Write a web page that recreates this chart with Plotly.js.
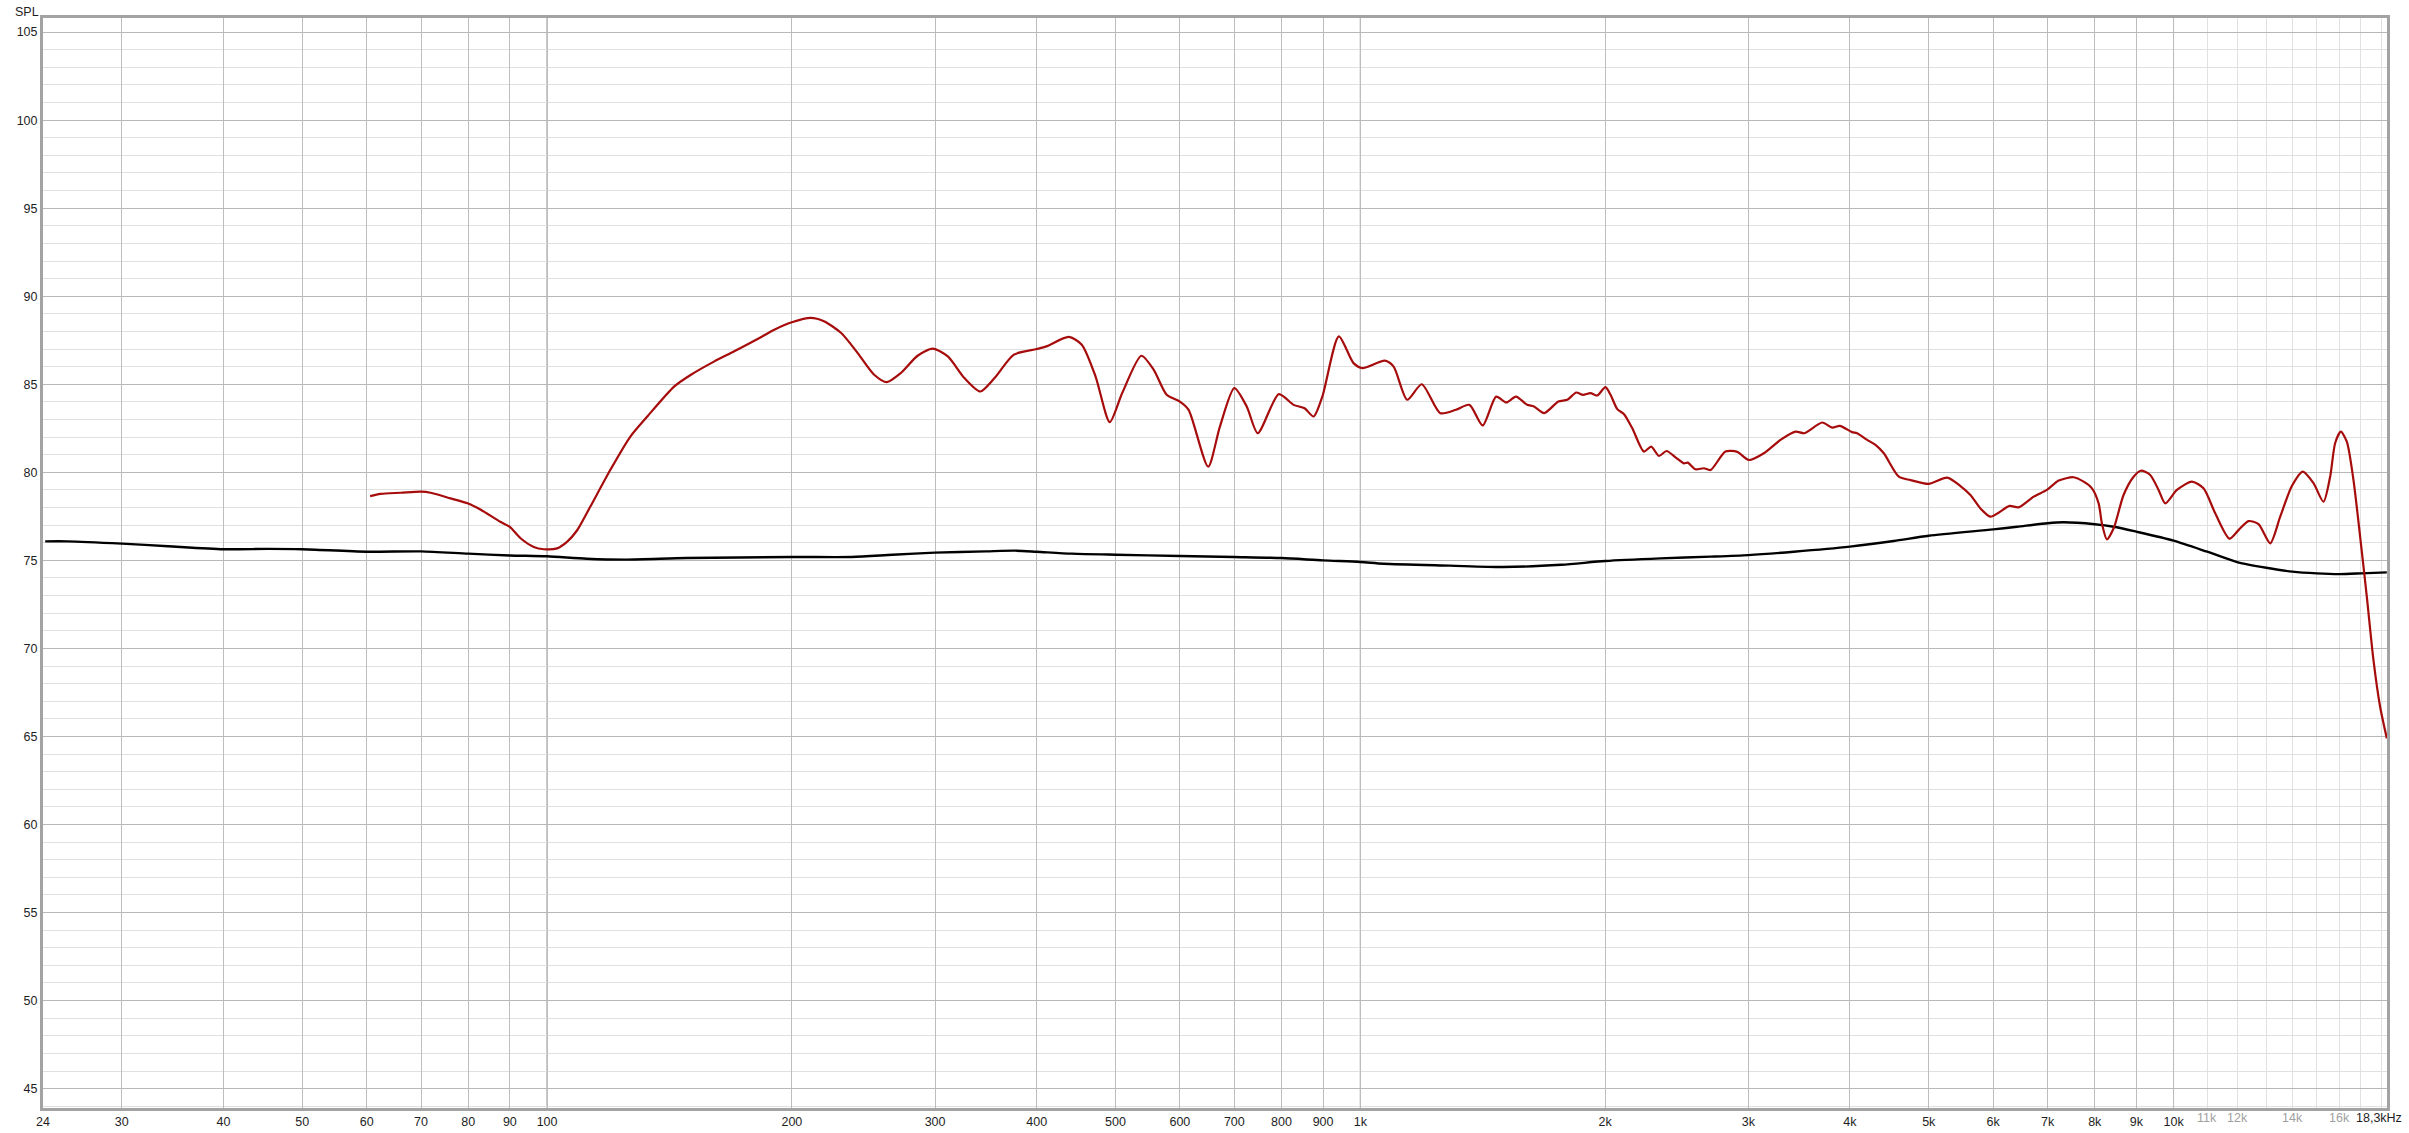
<!DOCTYPE html>
<html><head><meta charset="utf-8">
<script src="https://cdn.plot.ly/plotly-3.0.1.min.js"></script>
<style>html,body{margin:0;padding:0;background:#fff;}#chart{width:2409px;height:1133px;}</style>
</head><body><div id="chart"></div>
<script>
// Red measurement curve (Hz, dB SPL)
const redFreq = [60.6,62.4,66.1,70,71.9,76.1,80,82.8,87.6,90,92.7,96.3,99.1,102.9,105.8,108.9,113,119.6,126.6,133,143.4,150.3,160.6,169.9,181.5,190.3,200,211,219,230,241,252.5,261.7,272.3,285.5,298,311,326,341,355,375,400,411,438,454.5,472.5,492,509.6,538,557,578,600,615,650,672,700,725,748,794,828,854,876,898,941,981,1006,1072,1099,1142,1190,1254,1311,1362,1414,1469,1512,1554,1604,1635,1683,1752,1797,1843,1878,1919,1955,2002,2031,2070,2110,2160,2232,2279,2329,2380,2441,2499,2527,2583,2645,2696,2812,2907,3005,3135,3286,3429,3517,3698,3804,3887,4025,4082,4200,4300,4403,4594,4748,5000,5267,5470,5626,5788,5953,6100,6287,6450,6730,6987,7224,7537,7752,7937,8088,8164,8280,8440,8680,8930,9118,9360,9585,9768,10095,10532,10885,11252,11717,12021,12365,12720,13148,13525,13979,14421,14862,15288,15579,15800,16057,16332,16643,16960,17283,17612,17947,18292];
const redSpl = [78.65,78.78,78.84,78.9,78.84,78.52,78.23,77.89,77.19,76.9,76.27,75.76,75.63,75.68,76.05,76.71,78.04,80.13,82.03,83.2,84.88,85.54,86.3,86.87,87.57,88.1,88.52,88.77,88.58,87.91,86.77,85.54,85.12,85.64,86.62,87.02,86.58,85.35,84.59,85.35,86.68,87.0,87.15,87.69,87.25,85.45,82.85,84.5,86.62,85.83,84.4,84.02,83.55,80.32,82.6,84.78,83.74,82.22,84.44,83.83,83.64,83.17,84.3,87.72,86.2,85.92,86.34,86.0,84.12,85.0,83.36,83.55,83.83,82.66,84.3,83.97,84.3,83.83,83.74,83.36,84.02,84.12,84.53,84.4,84.5,84.36,84.84,84.4,83.59,83.3,82.5,81.18,81.46,80.93,81.21,80.85,80.51,80.55,80.17,80.23,80.13,81.18,81.16,80.7,81.08,81.84,82.31,82.22,82.83,82.54,82.64,82.28,82.22,81.84,81.56,81.08,79.75,79.56,79.34,79.7,79.22,78.71,77.95,77.48,77.72,78.09,78.01,78.62,79.0,79.53,79.72,79.47,79.09,78.24,77.1,76.19,76.82,78.71,79.75,80.09,79.85,79.0,78.24,79.0,79.47,79.09,77.67,76.23,76.72,77.23,77.06,75.97,77.48,79.22,80.04,79.38,78.33,79.75,81.65,82.31,81.74,79.56,76.34,72.94,69.34,66.69,64.89];
// Black reference curve (Hz, dB SPL)
const blackFreq = [24.15,25.7,30,34.2,40,45.4,50,60,70,80,90,100,111.9,125.3,148.4,200,237,266,300,346,376,400,442,500,600,700,800,900,1000,1068,1289,1498,1767,2000,2339,2696,3000,3412,4000,4529,5000,6000,6420,7000,7323,8000,8440,9000,10000,11000,12000,13000,14000,15000,16000,17000,18290];
const blackSpl = [76.08,76.08,75.95,75.8,75.63,75.65,75.63,75.49,75.51,75.38,75.28,75.23,75.09,75.04,75.13,75.19,75.19,75.32,75.44,75.51,75.55,75.49,75.38,75.32,75.25,75.19,75.13,75.0,74.91,74.81,74.7,74.62,74.75,74.96,75.11,75.21,75.3,75.49,75.78,76.1,76.4,76.76,76.91,77.11,77.16,77.05,76.91,76.63,76.12,75.49,74.89,74.58,74.36,74.26,74.22,74.26,74.32];

const xTickVals = [24,30,40,50,60,70,80,90,100,200,300,400,500,600,700,800,900,1000,2000,3000,4000,5000,6000,7000,8000,9000,10000];
const xTickText = ['24','30','40','50','60','70','80','90','100','200','300','400','500','600','700','800','900','1k','2k','3k','4k','5k','6k','7k','8k','9k','10k'];
const endTickVal = 18300;
const endTickText = '18,3kHz';
const lightTickVals = [11000,12000,14000,16000];
const lightTickText = ['11k','12k','14k','16k'];
const lightGridVals = [11000,12000,13000,14000,15000,16000,17000,18000];
const decadeVals = [100,1000,10000];
const yTickVals = [45,50,55,60,65,70,75,80,85,90,95,100,105];
const xMin = 24, xMax = 18300, yMin = 43.9, yMax = 105.8;

const xr = [Math.log10(xMin), Math.log10(xMax)];
const fam = '"Liberation Sans", Arial, sans-serif';
const font = {family: fam, size: 12.5, color: '#1e1e1e'};

const traces = [
  {x: blackFreq, y: blackSpl, type: 'scatter', mode: 'lines',
   line: {color: '#000000', width: 2.4, shape: 'spline', smoothing: 0.7}, hoverinfo: 'skip'},
  {x: redFreq, y: redSpl, type: 'scatter', mode: 'lines',
   line: {color: '#a60c0c', width: 2.2, shape: 'spline', smoothing: 0.7}, hoverinfo: 'skip'}
];

// darker decade grid lines (data positions through the x scale)
const shapes = decadeVals.map(v => ({
  type: 'line', layer: 'below', xref: 'x', yref: 'paper', x0: v, x1: v, y0: 0, y1: 1,
  line: {color: '#8a8a8a', width: 1}
}));

// light tick labels above 10k
const annotations = lightTickVals.map((v, i) => ({
  text: lightTickText[i], xref: 'x', yref: 'paper', x: Math.log10(v), y: 0,
  xanchor: 'center', yanchor: 'top', yshift: -1, showarrow: false,
  font: {family: fam, size: 12.5, color: '#a0a0a0'}
}));
annotations.push({text: endTickText, xref: 'x', yref: 'paper', x: Math.log10(endTickVal), y: 0,
  xanchor: 'right', yanchor: 'top', xshift: 17, yshift: -1, showarrow: false, font: font});
annotations.push({text: 'SPL', xref: 'paper', yref: 'paper', x: 0, y: 1, xanchor: 'center', yanchor: 'bottom',
  xshift: -16, yshift: -3, showarrow: false, font: font});

const layout = {
  width: 2409, height: 1133,
  margin: {l: 43, r: 22, t: 18, b: 25, pad: 0},
  paper_bgcolor: '#ffffff', plot_bgcolor: '#ffffff',
  showlegend: false, font: font,
  xaxis: {type: 'log', range: xr, tickmode: 'array', tickvals: xTickVals, ticktext: xTickText,
    showgrid: true, gridcolor: '#bdbdbd', gridwidth: 1, zeroline: false,
    minor: {tickmode: 'array', tickvals: lightGridVals, showgrid: true, gridcolor: '#e1e1e1', ticks: ''},
    showline: true, mirror: true, linecolor: '#a3a3a3', linewidth: 3,
    ticks: '', ticklen: 0, tickfont: font, fixedrange: true},
  yaxis: {range: [yMin, yMax], tickmode: 'array', tickvals: yTickVals,
    showgrid: true, gridcolor: '#b8b8b8', gridwidth: 1, zeroline: false,
    minor: {dtick: 1, tick0: 0, showgrid: true, gridcolor: '#e0e0e0', ticks: ''},
    showline: true, mirror: true, linecolor: '#a3a3a3', linewidth: 3,
    ticks: '', ticklen: 0, tickfont: font, fixedrange: true},
  shapes: shapes,
  annotations: annotations
};

Plotly.newPlot('chart', traces, layout, {displayModeBar: false, staticPlot: true});
</script>
</body></html>
